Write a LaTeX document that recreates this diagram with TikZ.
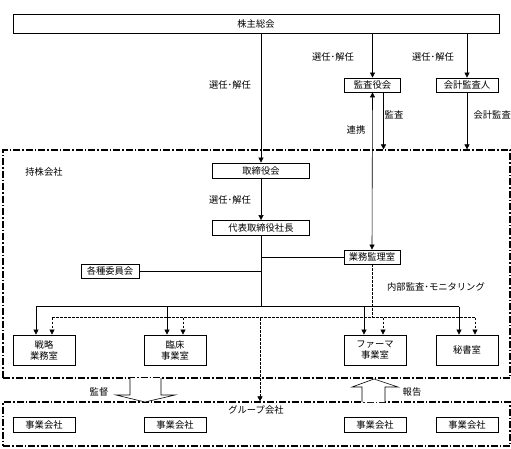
\documentclass[tikz,border=0pt]{standalone}
\usepackage{fontspec}
\setmainfont{Noto Sans CJK JP}
\usetikzlibrary{arrows.meta,calc}
\begin{document}
\begin{tikzpicture}[x=1pt,y=-1pt,font=\fontsize{9.3}{11}\selectfont,line width=0.6pt,
				box/.style = {rectangle,draw,line width=0.8pt,inner sep=0pt,minimum height=14pt},
				unit/.style = {box,minimum width=62pt,minimum height=30pt,align=center},
				firm/.style = {box,minimum width=62pt,minimum height=15pt},
				zone/.style = {rectangle,draw,line width=1.2pt,dash pattern=on 7pt off 2pt on 1.5pt off 2pt},
				arrow/.style = {-{Triangle[length=5pt,width=5pt]}},
				darrow/.style = {arrow,dashed,dash pattern=on 2.5pt off 1.5pt}]
				\useasboundingbox (0,0) rectangle (511,448);
				
				\node[zone,minimum width=507pt,minimum height=228pt] (hold) at (256.5,264) {};
				\node[zone,minimum width=507pt,minimum height=44pt] (group) at (256.5,424) {};
				
				\node[box,minimum width=486pt,minimum height=19pt] (gm) at (256,24) {株主総会};
				\node[box,minimum width=56pt] (kansa) at (372.5,85) {監査役会};
				\node[box,minimum width=62pt] (kaikei) at (467,85) {会計監査人};
				\node[box,minimum width=97pt,minimum height=15pt] (board) at (261,170.5) {取締役会};
				\node[box,minimum width=97pt,minimum height=15pt] (ceo) at (261,228) {代表取締役社長};
				\node[box,minimum width=56pt] (audit) at (372,257) {業務監理室};
				\node[box,minimum width=58pt] (comm) at (110,271) {各種委員会};
				
				\node[unit] (strat) at (44,350) {戦略\\業務室};
				\node[unit] (clin) at (175,350) {臨床\\事業室};
				\node[unit] (pharma) at (375,350) {ファーマ\\事業室};
				\node[unit] (sec) at (467,350) {秘書室};
				
				\node[firm] (f1) at (44,424.5) {事業会社};
				\node[firm] (f2) at (175,424.5) {事業会社};
				\node[firm] (f3) at (375,424.5) {事業会社};
				\node[firm] (f4) at (467,424.5) {事業会社};
				
				\node at (44,172) (holdlabel) {持株会社};
				\node at (256,410) (grouplabel) {グループ会社};
				\node at (230,85) (l1) {選任･解任};
				\node at (333,57) (l2) {選任･解任};
				\node at (433,57) (l3) {選任･解任};
				\node at (230,200) (l4) {選任･解任};
				\node at (394,115) (l5) {監査};
				\node at (356,130) (l6) {連携};
				\node[anchor=west] at (470,115) (l7) {会計監査};
				\node at (436,287) (l8) {内部監査･モニタリング};
				\node at (99,392) (l9) {監督};
				\node at (412,392) (l10) {報告};
				
				\draw[arrow] (gm.south -| board) -- (board.north);
				\draw[arrow] (gm.south -| kansa) -- (kansa.north);
				\draw[arrow] (gm.south -| kaikei) -- (kaikei.north);
				\draw[arrow] (board) -- (ceo);
				\draw[arrow] ([xshift=11pt]kansa.south) -- ([xshift=11pt]kansa.south |- hold.north);
				\draw[arrow] (kaikei.south) -- (kaikei.south |- hold.north);
				\draw[{Triangle[length=5pt,width=5pt]}-{Triangle[length=5pt,width=5pt]}] (kansa.south) -- (audit.north);
				
				\coordinate (bus) at (261,307);
				\coordinate (dbus) at (260,318);
				\draw (ceo) -- (bus);
				\draw (audit.west) -- (audit.west -| ceo);
				\draw (comm.east) -- (comm.east -| ceo);
				\draw ($(strat.north)+(-8,-28)$) -- ($(sec.north)+(-8,-28)$);
				\draw[dashed,dash pattern=on 2.5pt off 1.5pt] (audit.south) -- (audit.south |- dbus);
				\draw[dashed,dash pattern=on 2.5pt off 1.5pt] ($(strat.north)+(8,-17)$) -- ($(sec.north)+(8,-17)$);
				\foreach \n in {strat,clin,sec}{
					\draw[arrow] ($(\n.north)+(-8,-28)$) -- ([xshift=-8pt]\n.north);
					\draw[darrow] ($(\n.north)+(8,-17)$) -- ([xshift=8pt]\n.north);
				}
				\draw[arrow] ($(pharma.north)+(-11,-28)$) -- ([xshift=-11pt]pharma.north);
				\draw[darrow] ($(pharma.north)+(8,-17)$) -- ([xshift=8pt]pharma.north);
				\draw[darrow] (dbus) -- (dbus |- group.north);
				
				\draw[fill=white] (130,378) -- (130,395) -- (116,395) -- (145,402) -- (175,395) -- (161,395) -- (161,378);
				\draw[fill=white] (362,402) -- (362,387) -- (352,387) -- (374,379) -- (398,387) -- (385,387) -- (385,402);
				\end{tikzpicture}
\end{document}
